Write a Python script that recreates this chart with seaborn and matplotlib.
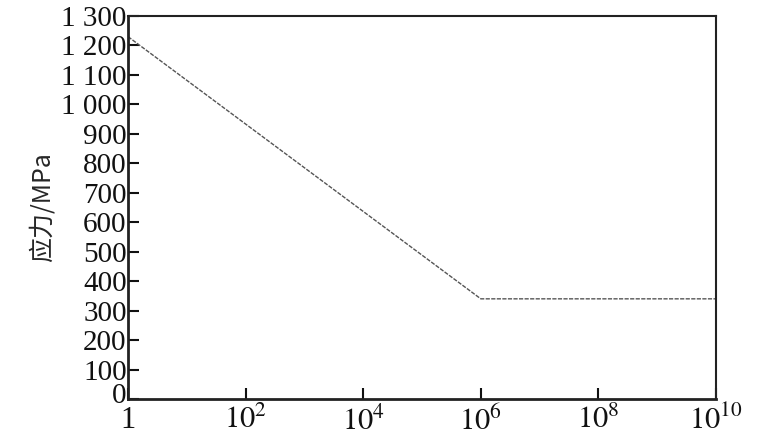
import matplotlib
matplotlib.use("Agg")
import matplotlib.pyplot as plt
import seaborn as sns
import pandas as pd
from matplotlib.transforms import ScaledTranslation

cycles = [1, 1e6, 1e10]
stress = [1230, 340, 340]
xticks = [1, 1e2, 1e4, 1e6, 1e8, 1e10]
xticklabels = ["1", "$10^{2}$", "$10^{4}$", "$10^{6}$", "$10^{8}$", "$10^{10}$"]
yticks = list(range(0, 1301, 100))
yticklabels = ["0", "100", "200", "300", "400", "500", "600", "700", "800", "900",
               "1 000", "1 100", "1 200", "1 300"]
ylabel = "应力/MPa"

sns.set_theme(style="white")
plt.rcParams['font.family'] = ['Liberation Serif', 'Noto Sans CJK SC', 'DejaVu Sans']
plt.rcParams['mathtext.fontset'] = 'stix'

df = pd.DataFrame({"cycles": cycles, "stress": stress})
fig = plt.figure(figsize=(7.75, 4.45), dpi=100)
ax = fig.add_axes([128/775, 1-399/445, (716-128)/775, (399-16)/445])
sns.lineplot(data=df, x="cycles", y="stress", ax=ax, color="#555555",
             linewidth=1.0, linestyle=(0, (3, 1)))
ax.set_xscale("log")
ax.set_xlim(1, 1e10)
ax.set_ylim(0, 1300)
ax.set_xticks(xticks)
ax.set_xticklabels(xticklabels, fontsize=22)
ax.minorticks_off()
ax.set_yticks(yticks)
ax.set_yticklabels(yticklabels, fontsize=21)
ax.set_xlabel("")
ax.set_ylabel(ylabel, fontsize=18, family=['Noto Sans CJK SC', 'DejaVu Sans'], labelpad=4)
ax.tick_params(axis='both', direction='in', length=8, width=1.5,
               colors='#111111', bottom=True, left=True, top=False, right=False)
ax.tick_params(axis='x', pad=5)
ax.tick_params(axis='y', pad=1)
# lift the "0" label a little so it does not collide with the "1" label
lbl0 = ax.get_yticklabels()[0]
lbl0.set_transform(lbl0.get_transform() + ScaledTranslation(0, 6/100, fig.dpi_scale_trans))
for s in ax.spines.values():
    s.set_color('#222222')
    s.set_linewidth(1.5)
ax.spines['left'].set_linewidth(2)
ax.spines['bottom'].set_linewidth(2)
fig.savefig("out.png", dpi=100)
